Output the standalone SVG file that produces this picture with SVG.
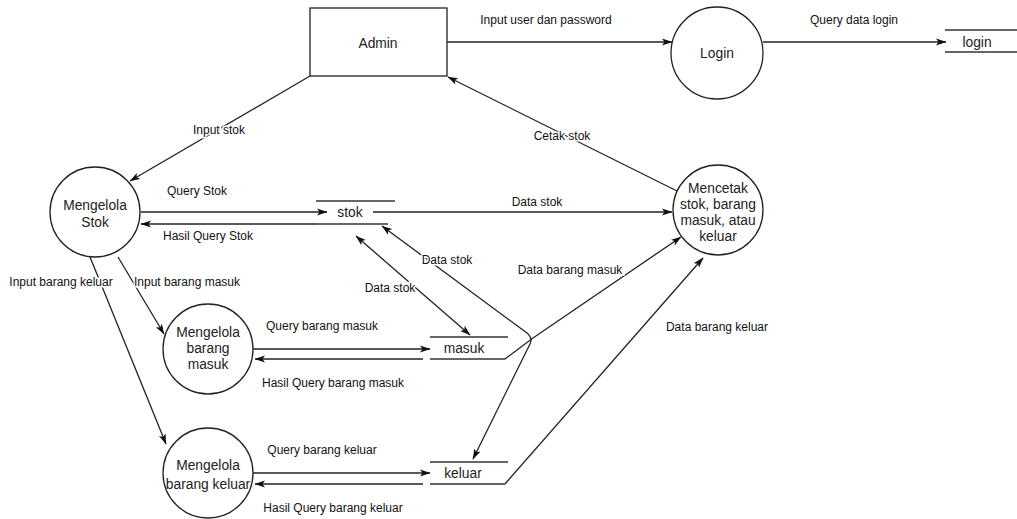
<svg xmlns="http://www.w3.org/2000/svg" width="1017" height="519" viewBox="0 0 1017 519">
<defs>
<marker id="arr" markerWidth="11" markerHeight="8" refX="10" refY="4" orient="auto-start-reverse" markerUnits="userSpaceOnUse">
<path d="M0,0.5 L10.5,4 L0,7.5 L2.5,4 z" fill="#111"/>
</marker>
<style>
.n{fill:#fff;stroke:#222;stroke-width:1.3}
.s{fill:none;stroke:#333;stroke-width:1.3}
.c{fill:none;stroke:#222;stroke-width:1.3}
.nt{font-family:"Liberation Sans",Arial,sans-serif;font-size:13.8px;fill:#222;text-anchor:middle}
.lb{font-family:"Liberation Sans",Arial,sans-serif;font-size:12px;fill:#111;text-anchor:middle;stroke:#fff;stroke-width:3;paint-order:stroke}
</style>
</defs>
<rect width="1017" height="519" fill="#fff"/>
<g id="connectors">
<line class="c" x1="447" y1="42" x2="672" y2="42" marker-end="url(#arr)"/>
<line class="c" x1="763" y1="42" x2="946" y2="42" marker-end="url(#arr)"/>
<line class="c" x1="310" y1="76" x2="130" y2="181" marker-end="url(#arr)"/>
<line class="c" x1="141" y1="212" x2="327" y2="212" marker-end="url(#arr)"/>
<line class="c" x1="316" y1="224" x2="141" y2="224" marker-end="url(#arr)"/>
<line class="c" x1="373" y1="212" x2="672" y2="212" marker-end="url(#arr)"/>
<line class="c" x1="677" y1="191" x2="448" y2="77" marker-end="url(#arr)"/>
<path class="c" d="M382,226 L527,333 Q533,338 530,344 L473,459" marker-start="url(#arr)" marker-end="url(#arr)"/>
<line class="c" x1="356" y1="236" x2="470" y2="335" marker-start="url(#arr)" marker-end="url(#arr)"/>
<line class="c" x1="253" y1="349" x2="430" y2="349" marker-end="url(#arr)"/>
<line class="c" x1="423" y1="359" x2="255" y2="359" marker-end="url(#arr)"/>
<path class="c" d="M505,359 L533,338 L681,237" marker-end="url(#arr)"/>
<line class="c" x1="253" y1="473" x2="430" y2="473" marker-end="url(#arr)"/>
<line class="c" x1="423" y1="484" x2="255" y2="484" marker-end="url(#arr)"/>
<line class="c" x1="505" y1="484" x2="703" y2="258" marker-end="url(#arr)"/>
<line class="c" x1="118" y1="257" x2="164" y2="334" marker-end="url(#arr)"/>
<line class="c" x1="90" y1="257" x2="166" y2="444" marker-end="url(#arr)"/>
<text class="lb" x="546" y="24">Input user dan password</text>
<text class="lb" x="854" y="24">Query data login</text>
<text class="lb" x="219" y="134">Input stok</text>
<text class="lb" x="197" y="195">Query Stok</text>
<text class="lb" x="208" y="240">Hasil Query Stok</text>
<text class="lb" x="562" y="140">Cetak stok</text>
<text class="lb" x="537" y="206">Data stok</text>
<text class="lb" x="447" y="264">Data stok</text>
<text class="lb" x="390" y="292">Data stok</text>
<text class="lb" x="570" y="274">Data barang masuk</text>
<text class="lb" x="717" y="331">Data barang keluar</text>
<text class="lb" x="61" y="286">Input barang keluar</text>
<text class="lb" x="187" y="286">Input barang masuk</text>
<text class="lb" x="322" y="330">Query barang masuk</text>
<text class="lb" x="333" y="387">Hasil Query barang masuk</text>
<text class="lb" x="322" y="454">Query barang keluar</text>
<text class="lb" x="333" y="512">Hasil Query barang keluar</text>
</g>
<g id="admin">
<rect class="n" x="310" y="8" width="137" height="68"/>
<text class="nt" x="378" y="48">Admin</text>
</g>
<g id="login-process">
<circle class="n" cx="717" cy="53" r="46"/>
<text class="nt" x="717" y="58">Login</text>
</g>
<g id="login-store">
<line class="s" x1="945" y1="30" x2="1017" y2="30"/>
<line class="s" x1="945" y1="52" x2="1017" y2="52"/>
<text class="nt" x="977" y="47">login</text>
</g>
<g id="mengelola-stok">
<circle class="n" cx="95" cy="212" r="45"/>
<text class="nt" x="95" y="210">Mengelola</text>
<text class="nt" x="95" y="227">Stok</text>
</g>
<g id="stok-store">
<line class="s" x1="316" y1="201" x2="395" y2="201"/>
<line class="s" x1="316" y1="224" x2="388" y2="224"/>
<text class="nt" x="350" y="217">stok</text>
</g>
<g id="mencetak">
<circle class="n" cx="718" cy="210" r="45"/>
<text class="nt" x="718" y="193">Mencetak</text>
<text class="nt" x="718" y="209">stok, barang</text>
<text class="nt" x="718" y="225">masuk, atau</text>
<text class="nt" x="718" y="241">keluar</text>
</g>
<g id="mengelola-masuk">
<circle class="n" cx="208" cy="349" r="45"/>
<text class="nt" x="208" y="337">Mengelola</text>
<text class="nt" x="208" y="353">barang</text>
<text class="nt" x="208" y="369">masuk</text>
</g>
<g id="masuk-store">
<line class="s" x1="430" y1="337" x2="508" y2="337"/>
<line class="s" x1="430" y1="359" x2="505" y2="359"/>
<text class="nt" x="464" y="353">masuk</text>
</g>
<g id="mengelola-keluar">
<circle class="n" cx="208" cy="473" r="45"/>
<text class="nt" x="208" y="470">Mengelola</text>
<text class="nt" x="208" y="489">barang keluar</text>
</g>
<g id="keluar-store">
<line class="s" x1="430" y1="462" x2="508" y2="462"/>
<line class="s" x1="430" y1="484" x2="505" y2="484"/>
<text class="nt" x="463" y="478">keluar</text>
</g>
</svg>
